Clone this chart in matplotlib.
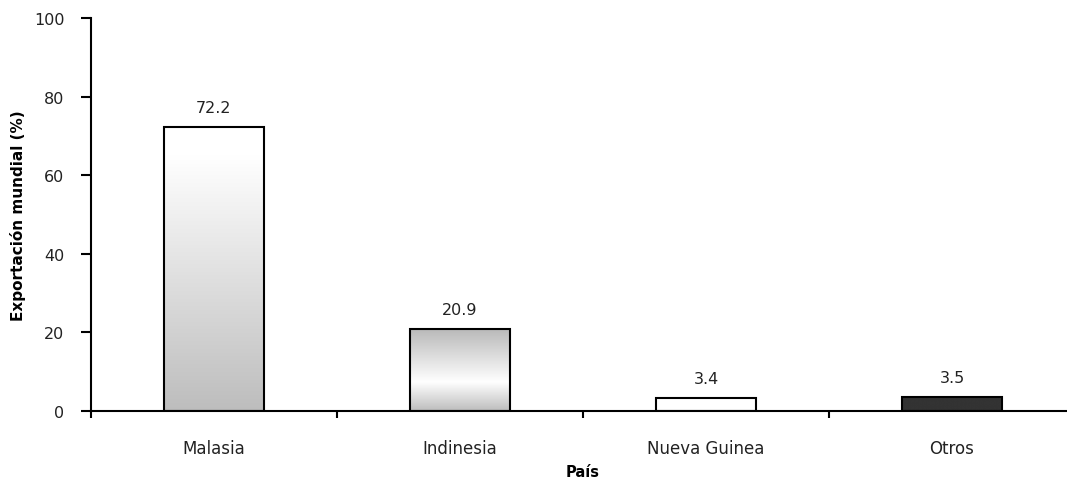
import matplotlib.pyplot as plt
import numpy as np
from matplotlib.colors import LinearSegmentedColormap

plt.rcParams['font.family'] = ['DejaVu Sans']

# datos
paises = ['Malasia', 'Indinesia', 'Nueva Guinea', 'Otros']
valores = [72.2, 20.9, 3.4, 3.5]

# rellenos de cada barra (degradado vertical, de abajo hacia arriba)
rellenos = [
    [(0, '#bdbdbd'), (0.9, '#ffffff'), (1, '#ffffff')],
    [(0, '#bdbdbd'), (0.35, '#ffffff'), (1, '#b8b8b8')],
    [(0, '#ffffff'), (1, '#ffffff')],
    [(0, '#333333'), (1, '#333333')],
]

fig = plt.figure(figsize=(10.67, 4.81), dpi=100, facecolor='white')
ax = fig.add_axes([91 / 1067, 69 / 481, 984 / 1067, 393 / 481])

x = np.arange(len(paises))
bars = ax.bar(x, valores, width=0.405, facecolor='none', edgecolor='black',
              linewidth=1.5, zorder=3)

for bar, cols, v in zip(bars, rellenos, valores):
    x0 = bar.get_x()
    w = bar.get_width()
    h = bar.get_height()
    cmap = LinearSegmentedColormap.from_list('g', cols)
    grad = np.linspace(0, 1, 256).reshape(-1, 1)
    im = ax.imshow(grad, cmap=cmap, origin='lower', aspect='auto',
                   extent=[x0, x0 + w, 0, h], zorder=2, interpolation='bilinear')
    im.set_clip_path(bar)
    ax.text(x0 + w / 2, h + 3, f'{v}', ha='center', va='bottom',
            fontsize=11.5, color='#222222')

ax.set_xlim(-0.5, 3.5)
ax.set_ylim(0, 100)
ax.set_yticks([0, 20, 40, 60, 80, 100])
ax.set_xticks(x)
ax.set_xticklabels(paises)
ax.set_xticks(np.arange(-0.5, 4, 1), minor=True)
ax.tick_params(axis='x', which='major', length=0, pad=20, labelsize=12,
               colors='#222222')
ax.tick_params(axis='x', which='minor', length=5, width=1.5, direction='out')
ax.tick_params(axis='y', length=7, width=1.5, direction='out', pad=12,
               labelsize=11.5, colors='#222222')
for lab in ax.get_xticklabels() + ax.get_yticklabels():
    lab.set_color('#222222')
ax.tick_params(axis='both', color='black')

ax.set_xlabel('País', fontsize=10.5, fontweight='bold', labelpad=5)
ax.set_ylabel('Exportación mundial (%)', fontsize=11, fontweight='bold',
              labelpad=6)

ax.spines['top'].set_visible(False)
ax.spines['right'].set_visible(False)
ax.spines['left'].set_linewidth(1.5)
ax.spines['bottom'].set_linewidth(1.5)

plt.savefig('out.png', dpi=100, facecolor='white')
plt.close()
